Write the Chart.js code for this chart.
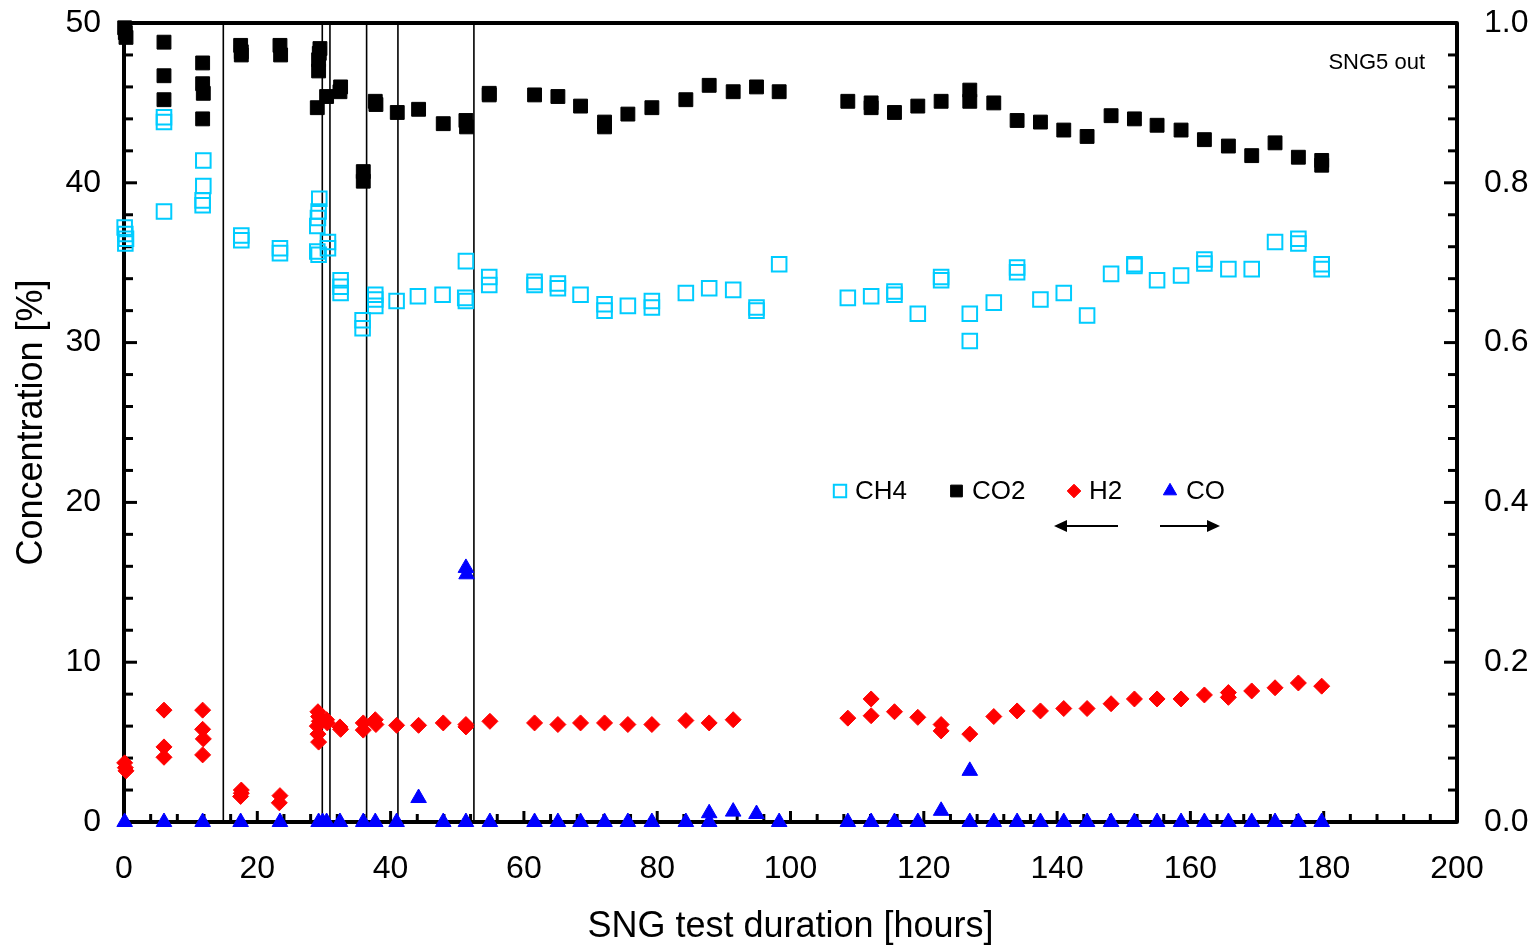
<!DOCTYPE html>
<html><head><meta charset="utf-8">
<script src="https://cdn.jsdelivr.net/npm/chart.js@4/dist/chart.umd.min.js"></script>
<style>html,body{margin:0;padding:0;background:#fff;}#wrap{width:1535px;height:946px;}</style>
</head><body><div id="wrap"><canvas id="c" width="1535" height="946"></canvas></div>
<script>
// [hours, concentration %]
const ch4Points = [[0.1,37.2],[0.2,36.8],[0.3,36.5],[0.2,36.2],[6.0,44.1],[6.0,43.8],[6.0,38.2],[11.9,41.4],[11.9,39.8],[11.8,38.9],[11.8,38.6],[17.6,36.7],[17.6,36.4],[23.4,35.9],[23.4,35.6],[29.3,39.0],[29.2,38.2],[29.1,37.8],[29.0,37.3],[29.0,35.7],[29.2,35.5],[30.6,36.3],[30.6,35.9],[32.5,33.9],[32.5,33.5],[32.5,33.1],[35.8,31.4],[35.8,30.9],[37.7,33.0],[37.7,32.7],[37.7,32.3],[40.9,32.6],[44.1,32.9],[47.8,33.0],[51.3,35.1],[51.2,32.8],[51.3,32.6],[54.8,34.1],[54.8,33.6],[61.6,33.8],[61.6,33.6],[65.1,33.7],[65.1,33.4],[68.5,33.0],[72.1,32.4],[72.1,32.0],[75.6,32.3],[79.2,32.6],[79.2,32.2],[84.3,33.1],[87.8,33.4],[91.4,33.3],[94.9,32.2],[94.9,32.0],[98.3,34.9],[108.6,32.8],[112.1,32.9],[115.6,33.2],[115.6,33.0],[119.1,31.8],[122.6,34.1],[122.6,33.9],[126.9,31.8],[126.9,30.1],[130.5,32.5],[134.0,34.7],[134.0,34.4],[137.5,32.7],[141.0,33.1],[144.5,31.7],[148.1,34.3],[151.6,34.9],[151.6,34.8],[155.0,33.9],[158.6,34.2],[162.1,35.2],[162.1,34.95],[165.7,34.6],[169.2,34.6],[172.7,36.3],[176.2,36.5],[176.2,36.2],[179.7,34.9],[179.7,34.6]];
const co2Points = [[0.1,49.7],[0.2,49.4],[0.3,49.1],[6.0,48.8],[6.0,46.7],[6.0,45.2],[11.8,47.5],[11.8,46.2],[11.9,45.6],[11.8,44.0],[17.5,48.6],[17.6,48.2],[17.6,48.0],[23.4,48.6],[23.5,48.0],[29.4,48.4],[29.3,48.1],[29.2,47.7],[29.2,47.0],[29.0,44.7],[30.4,45.4],[32.5,46.0],[32.4,45.7],[35.9,40.7],[35.9,40.1],[37.7,45.1],[37.8,44.9],[41.0,44.4],[44.2,44.6],[47.9,43.7],[51.3,43.9],[51.4,43.5],[54.8,45.6],[54.8,45.5],[61.6,45.5],[65.1,45.4],[68.5,44.8],[72.1,43.8],[72.1,43.5],[75.6,44.3],[79.2,44.7],[84.3,45.2],[87.8,46.1],[91.4,45.7],[94.9,46.0],[98.3,45.7],[108.6,45.1],[112.1,45.0],[112.1,44.7],[115.6,44.4],[119.1,44.8],[122.6,45.1],[126.9,45.8],[126.9,45.1],[130.5,45.0],[134.0,43.9],[137.5,43.8],[141.0,43.3],[144.5,42.9],[148.1,44.2],[151.6,44.0],[155.0,43.6],[158.6,43.3],[162.1,42.7],[165.7,42.3],[169.2,41.7],[172.7,42.5],[176.2,41.6],[179.7,41.4],[179.7,41.1]];
const h2Points = [[0.1,3.7],[0.2,3.4],[0.3,3.2],[6.0,7.0],[6.0,4.7],[6.0,4.05],[11.8,7.0],[11.8,5.8],[11.9,5.2],[11.8,4.2],[17.6,2.0],[17.6,1.8],[17.5,1.6],[23.4,1.65],[23.3,1.2],[29.1,6.9],[29.2,6.6],[29.3,6.3],[29.0,6.0],[29.1,5.5],[29.2,5.0],[30.4,6.4],[30.5,6.2],[32.4,5.95],[32.5,5.8],[35.9,6.2],[35.9,5.75],[37.7,6.4],[37.8,6.1],[40.9,6.05],[44.2,6.05],[47.9,6.2],[51.3,6.1],[51.3,5.95],[54.9,6.3],[61.6,6.2],[65.1,6.1],[68.5,6.2],[72.1,6.2],[75.6,6.1],[79.2,6.1],[84.3,6.35],[87.8,6.2],[91.4,6.4],[108.6,6.5],[112.1,7.7],[112.1,6.65],[115.6,6.9],[119.1,6.55],[122.6,6.1],[122.6,5.7],[126.9,5.5],[130.5,6.6],[134.0,6.95],[137.5,6.95],[141.0,7.1],[144.5,7.1],[148.1,7.4],[151.6,7.7],[155.0,7.7],[158.6,7.7],[162.1,7.95],[165.7,8.1],[165.7,7.8],[169.2,8.2],[172.7,8.4],[176.2,8.7],[179.7,8.5]];
// CO on right axis (fraction scale 0..1)
const coPoints = [[0.1,0],[6.0,0],[11.8,0],[17.5,0],[23.4,0],[29.2,0],[29.8,0],[30.4,0],[32.4,0],[35.9,0],[37.7,0],[40.9,0],[44.2,0.030],[47.9,0],[51.3,0.318],[51.4,0.31],[51.3,0],[54.9,0],[61.6,0],[65.1,0],[68.5,0],[72.1,0],[75.6,0],[79.2,0],[84.3,0],[87.8,0.011],[87.8,0],[91.4,0.013],[94.9,0.010],[98.3,0],[108.6,0],[112.1,0],[115.6,0],[119.1,0],[122.6,0.014],[126.9,0.064],[126.9,0],[130.5,0],[134.0,0],[137.5,0],[141.0,0],[144.5,0],[148.1,0],[151.6,0],[155.0,0],[158.6,0],[162.1,0],[165.7,0],[169.2,0],[172.7,0],[176.2,0],[179.7,0]];
const eventHours = [14.9, 29.75, 30.9, 36.4, 41.1, 52.5];
const seriesNames = ['CH4','CO2','H2','CO'];
const xTitle = 'SNG test duration [hours]';
const yTitle = 'Concentration [%]';
const noteText = 'SNG5 out';

const FONT = "'Liberation Sans', Arial, sans-serif";
Chart.defaults.font.family = FONT;
Chart.defaults.color = '#000';

const toXY = p => p.map(([x,y]) => ({x, y}));
const markerStyles = [
  {pointStyle:'rect', pointRadius:10.3, backgroundColor:'rgba(0,0,0,0)', borderColor:'#00CCFF', borderWidth:2},
  {pointStyle:'rect', pointRadius:9.8, backgroundColor:'#000', borderColor:'#000', borderWidth:1},
  {pointStyle:'rectRot', pointRadius:8, backgroundColor:'#FF0000', borderColor:'#FF0000', borderWidth:1},
  {pointStyle:'triangle', pointRadius:9, backgroundColor:'#0000FF', borderColor:'#0000FF', borderWidth:1}
];
const seriesData = [ch4Points, co2Points, h2Points, coPoints];

const datasets = seriesData.map((pts, i) => ({
  type:'scatter', label: seriesNames[i], data: toXY(pts),
  yAxisID: i === 3 ? 'y2' : 'y', clip:false, order: 1,
  pointStyle: markerStyles[i].pointStyle, pointRadius: markerStyles[i].pointRadius,
  pointHoverRadius: markerStyles[i].pointRadius,
  pointBackgroundColor: markerStyles[i].backgroundColor, pointBorderColor: markerStyles[i].borderColor,
  pointBorderWidth: markerStyles[i].borderWidth, showLine:false
}));
eventHours.forEach(h => datasets.push({
  type:'line', label:'event', data:[{x:h,y:0},{x:h,y:50}], yAxisID:'y',
  borderColor:'#000', borderWidth:1.6, pointRadius:0, order: 5, clip:false
}));

function line(ctx,x1,y1,x2,y2){ctx.beginPath();ctx.moveTo(x1,y1);ctx.lineTo(x2,y2);ctx.stroke();}

const framePlugin = {
  id:'frame',
  beforeDatasetsDraw(chart){
    const {ctx, chartArea:a, scales:{x,y,y2}} = chart;
    ctx.save();
    ctx.strokeStyle='#000'; ctx.lineWidth=3; ctx.lineCap='butt';
    for (let i=0;i<=50;i++){ const v=i*4; const px=x.getPixelForValue(v); const L=(i%5===0)?11:8; line(ctx,px,a.bottom,px,a.bottom-L); }
    for (let i=0;i<=25;i++){ const v=i*2; const py=y.getPixelForValue(v); const L=(i%5===0)?13:9; line(ctx,a.left,py,a.left+L,py); }
    for (let i=0;i<=25;i++){ const v=i*0.04; const py=y2.getPixelForValue(v); const L=(i%5===0)?13:9; line(ctx,a.right,py,a.right-L,py); }
    ctx.lineWidth=4; ctx.lineJoin='round';
    ctx.strokeRect(a.left,a.top,a.right-a.left,a.bottom-a.top);
    ctx.restore();
  },
  afterDraw(chart){
    const {ctx, chartArea:a} = chart;
    ctx.save();
    ctx.fillStyle='#000';
    ctx.font = '22px '+FONT; ctx.textAlign='right'; ctx.textBaseline='middle';
    ctx.fillText(noteText, a.right-32, a.top+40);
    // legend
    const ly = a.top + 468;
    const items = [[840,855],[956.5,972],[1074,1089],[1170,1186]];
    ctx.font = '26px '+FONT; ctx.textAlign='left';
    items.forEach(([mx,tx],i)=>{
      const s = markerStyles[i];
      ctx.fillStyle = s.backgroundColor; ctx.strokeStyle = s.borderColor; ctx.lineWidth = s.borderWidth;
      Chart.helpers.drawPoint(ctx, {pointStyle:s.pointStyle, radius: s.pointRadius*0.85, rotation:0, borderWidth:s.borderWidth}, mx, ly);
      ctx.fillStyle='#000';
      ctx.fillText(seriesNames[i], tx, ly+1);
    });
    // arrows
    const ay = ly + 35;
    ctx.strokeStyle='#000'; ctx.fillStyle='#000'; ctx.lineWidth=2;
    line(ctx,1064,ay,1118,ay);
    ctx.beginPath(); ctx.moveTo(1054,ay); ctx.lineTo(1067,ay-6); ctx.lineTo(1067,ay+6); ctx.closePath(); ctx.fill();
    line(ctx,1160,ay,1208,ay);
    ctx.beginPath(); ctx.moveTo(1220,ay); ctx.lineTo(1207,ay-6); ctx.lineTo(1207,ay+6); ctx.closePath(); ctx.fill();
    ctx.restore();
  }
};

function fixV(w){ return s => { s.width = w; s.paddingTop = 0; s.paddingBottom = 0; }; }

new Chart(document.getElementById('c'), {
  data:{datasets},
  options:{
    responsive:false, devicePixelRatio:1, animation:false,
    layout:{padding:{top:23,left:0,right:0,bottom:0}},
    plugins:{legend:{display:false}, tooltip:{enabled:false}},
    scales:{
      x:{type:'linear', position:'bottom', min:0, max:200,
         ticks:{stepSize:20, font:{size:32}, color:'#000', padding:20, maxRotation:0},
         grid:{display:false}, border:{display:false},
         title:{display:true, text:xTitle, font:{size:36}, color:'#000', padding:{top:0,bottom:-3}},
         afterFit(s){ s.height = 124; s.paddingLeft = 0; s.paddingRight = 0; }},
      y:{type:'linear', position:'left', min:0, max:50,
         ticks:{stepSize:10, font:{size:32}, color:'#000', padding:15},
         grid:{display:false}, border:{display:false},
         title:{display:true, text:yTitle, font:{size:36}, color:'#000', padding:{top:10,bottom:0}},
         afterFit: fixV(124)},
      y2:{type:'linear', position:'right', min:0, max:1,
         ticks:{stepSize:0.2, font:{size:32}, color:'#000', padding:19, callback:v=>Number(v).toFixed(1)},
         grid:{display:false}, border:{display:false},
         afterFit: fixV(78)}
    }
  },
  plugins:[framePlugin]
});
</script></body></html>
